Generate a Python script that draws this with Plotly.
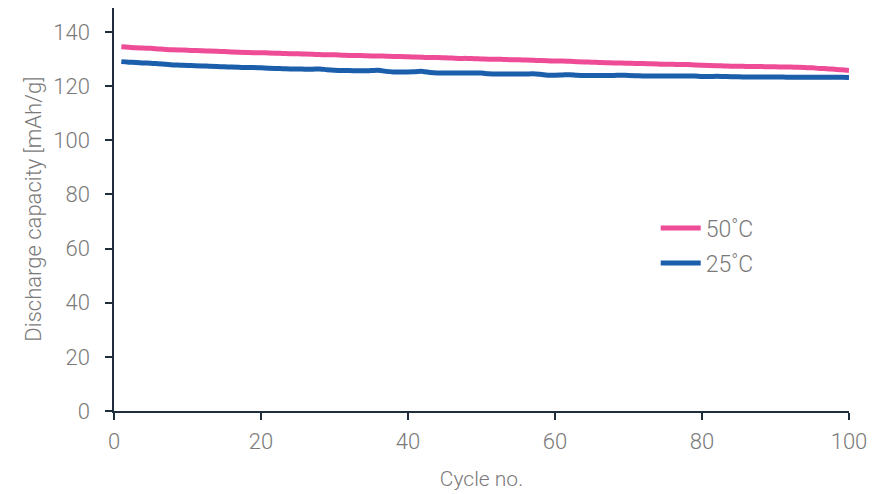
import plotly.graph_objects as go

cycles = list(range(1, 101))

cap_50C = [
    134.5, 134.3, 134.1, 134.0, 133.9, 133.7, 133.5, 133.4, 133.3, 133.2,
    133.1, 133.0, 132.9, 132.8, 132.7, 132.6, 132.5, 132.4, 132.3, 132.3,
    132.2, 132.1, 132.0, 131.9, 131.9, 131.8, 131.7, 131.6, 131.5, 131.5,
    131.4, 131.3, 131.3, 131.2, 131.1, 131.1, 131.0, 130.9, 130.9, 130.8,
    130.7, 130.6, 130.5, 130.5, 130.4, 130.3, 130.2, 130.2, 130.1, 130.0,
    129.9, 129.9, 129.8, 129.7, 129.7, 129.6, 129.5, 129.4, 129.3, 129.2,
    129.2, 129.1, 129.0, 128.9, 128.8, 128.7, 128.6, 128.5, 128.5, 128.4,
    128.3, 128.3, 128.2, 128.1, 128.0, 128.0, 127.9, 127.9, 127.8, 127.7,
    127.6, 127.5, 127.4, 127.3, 127.3, 127.2, 127.2, 127.2, 127.1, 127.1,
    127.0, 127.0, 126.9, 126.8, 126.7, 126.5, 126.4, 126.2, 126.0, 125.7,
]

cap_25C = [
    129.0, 128.8, 128.7, 128.5, 128.4, 128.2, 128.0, 127.8, 127.7, 127.6,
    127.5, 127.4, 127.3, 127.2, 127.1, 127.0, 126.9, 126.8, 126.8, 126.7,
    126.6, 126.5, 126.4, 126.3, 126.3, 126.2, 126.2, 126.3, 126.0, 125.8,
    125.7, 125.7, 125.6, 125.6, 125.7, 125.8, 125.4, 125.2, 125.2, 125.2,
    125.3, 125.4, 125.0, 124.8, 124.8, 124.8, 124.8, 124.8, 124.8, 124.8,
    124.5, 124.4, 124.4, 124.4, 124.4, 124.4, 124.5, 124.3, 124.0, 124.0,
    124.1, 124.2, 124.0, 123.9, 123.9, 123.9, 123.9, 123.9, 124.0, 123.9,
    123.8, 123.7, 123.7, 123.7, 123.7, 123.7, 123.7, 123.7, 123.7, 123.5,
    123.5, 123.6, 123.5, 123.4, 123.4, 123.3, 123.3, 123.3, 123.3, 123.3,
    123.3, 123.2, 123.2, 123.2, 123.2, 123.2, 123.2, 123.2, 123.2, 123.1,
]

x_ticks = [0, 20, 40, 60, 80, 100]
y_ticks = [0, 20, 40, 60, 80, 100, 120, 140]
y_title = "Discharge capacity [mAh/g]"
x_title = "Cycle no."

PINK = "#EE4C97"
BLUE = "#1B5EAB"
AXIS = "#1f2d3d"
GREY = "#7a7a7a"
FONT = "Roboto"

fig = go.Figure()
fig.add_trace(go.Scatter(x=cycles, y=cap_50C, mode="lines", name="50˚C", legend="legend",
                         showlegend=True,
                         line=dict(color=PINK, width=5, shape="spline")))
fig.add_trace(go.Scatter(x=cycles, y=cap_25C, mode="lines", name="25˚C", legend="legend2",
                         showlegend=True,
                         line=dict(color=BLUE, width=5, shape="spline")))

leg_common = dict(xanchor="left", yanchor="middle", bgcolor="rgba(0,0,0,0)",
                  font=dict(size=23, color=GREY, family=FONT, weight=300), itemwidth=40)

fig.update_layout(
    width=881, height=494,
    showlegend=True,
    margin=dict(l=106, r=40, t=0, b=91),
    plot_bgcolor="white", paper_bgcolor="white",
    font=dict(family=FONT, color=GREY, size=22, weight=300),
    legend=dict(x=0.737, y=(411 - 228) / 403, **leg_common),
    legend2=dict(x=0.737, y=(411 - 263) / 403, **leg_common),
    xaxis=dict(range=[0, 100], tickvals=x_ticks, showgrid=False, zeroline=False,
               showline=True, linecolor=AXIS, linewidth=1.5,
               ticks="outside", ticklen=7, tickcolor=AXIS, tickwidth=1.5,
               ticklabelstandoff=3,
               tickfont=dict(size=22, color=GREY, weight=300),
               title=dict(text=x_title, font=dict(size=21, color=GREY, weight=300), standoff=18)),
    yaxis=dict(range=[0, 148.8], tickvals=y_ticks, showgrid=False, zeroline=False,
               showline=True, linecolor=AXIS, linewidth=1.5,
               ticks="outside", ticklen=7, tickcolor=AXIS, tickwidth=1.5,
               ticklabelstandoff=11,
               tickfont=dict(size=22, color=GREY, weight=300)),
    annotations=[dict(text=y_title, xref="paper", yref="paper", x=-0.110, y=0.5,
                      xanchor="center", yanchor="middle", textangle=-90, showarrow=False,
                      font=dict(size=22, color=GREY, family=FONT, weight=300))],
)

fig.write_html("out.html")
